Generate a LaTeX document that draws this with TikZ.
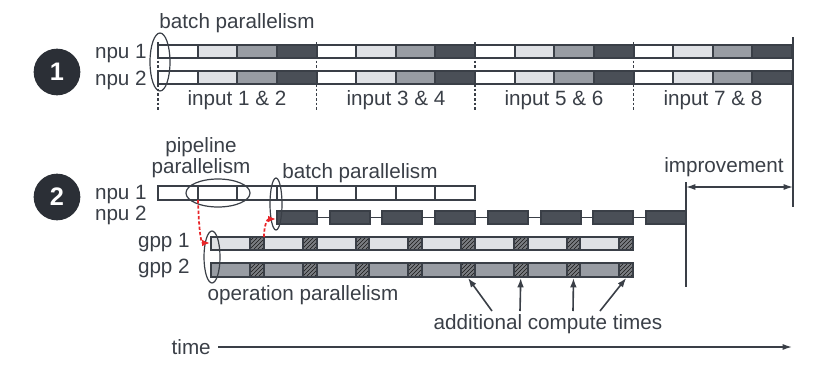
\documentclass[tikz,border=0pt]{standalone}
\usepackage{fontspec}
\setmainfont{Liberation Sans}
\usetikzlibrary{arrows.meta, calc, positioning, patterns}
\definecolor{ink}{HTML}{3A3F47}
\definecolor{badgebg}{HTML}{2B2F36}
\definecolor{seglt}{HTML}{DFE1E5}
\definecolor{segmd}{HTML}{989CA3}
\definecolor{segdk}{HTML}{4A4F57}
\definecolor{linkred}{HTML}{E8262A}
\tikzset{
  lbl/.style     = {font=\fontsize{15.5}{17}\selectfont, text=ink, inner sep=0pt},
  seg/.style     = {draw=ink, line width=1.5pt},
  hatch/.style   = {seg, preaction={fill=segmd!80!black}, pattern=north east lines, pattern color=black!90},
  grp/.style     = {draw=ink, line width=0.9pt},
  badge/.style   = {circle, fill=badgebg, minimum size=35pt, inner sep=0pt,
                    text=white, font=\fontsize{19}{19}\selectfont\bfseries},
  split/.style   = {draw=ink, line width=0.8pt, dash pattern=on 2pt off 1.5pt},
  handoff/.style = {draw=linkred, line width=1.3pt, dash pattern=on 2.5pt off 1.5pt,
                    -{Latex[length=6pt,width=5pt]}},
  pointer/.style = {draw=ink, line width=1.2pt, -{Latex[length=7pt,width=5pt]}},
  timeline/.style= {draw=ink, line width=1pt, -{Latex[length=7pt,width=4.5pt]}},
}

\begin{document}
\begin{tikzpicture}[x=0.75pt, y=-0.75pt]
  \useasboundingbox (0,0) rectangle (822,379);
  % scheme 1: batch parallelism only
  \node[badge] (one) at (57,72) {1};
  \node[lbl, anchor=base east] (npuA1) at (147,58) {npu 1};
  \node[lbl, anchor=base east] (npuA2) at (147,85) {npu 2};
  \node[lbl, anchor=base] (batchA) at (237,28) {batch parallelism};
  \foreach \x in {158,316.5,475,633.5}
    \draw[split] (\x,42) -- (\x,110);
  \foreach \ya/\yb in {45/58, 71/84}
    \foreach \g in {0,...,3}
      \foreach \j/\col in {0/white,1/seglt,2/segmd,3/segdk}
        \draw[seg, fill=\col] ({158+39.625*(4*\g+\j)},\ya) rectangle ({158+39.625*(4*\g+\j+1)},\yb);
  \draw[grp] (160,62) ellipse [x radius=7.5pt, y radius=21.75pt];
  \node[lbl, anchor=base] (inA) at (237,105) {input 1 \& 2};
  \node[lbl, anchor=base] (inB) at (396,105) {input 3 \& 4};
  \node[lbl, anchor=base] (inC) at (554,105) {input 5 \& 6};
  \node[lbl, anchor=base] (inD) at (713,105) {input 7 \& 8};
  \coordinate (endA) at (793,187);
  \draw[ink, line width=1.2pt] (793,37) -- (793,207);

  % scheme 2: npu + gpp
  \node[badge] (two) at (57,197) {2};
  \node[lbl, anchor=base east] (npuB1) at (147,199) {npu 1};
  \node[lbl, anchor=base east] (npuB2) at (147,220) {npu 2};
  \node[lbl, anchor=base east] (gpp1) at (190,247) {gpp 1};
  \node[lbl, anchor=base east] (gpp2) at (190,273) {gpp 2};
  \node[lbl, anchor=base] (pipeA) at (201,152) {pipeline};
  \node[lbl, anchor=base] (pipeB) at (201,173) {parallelism};
  \node[lbl, anchor=base] (batchB) at (360,178) {batch parallelism};
  \node[lbl, anchor=base] (oper) at (303,300) {operation parallelism};
  \node[lbl, anchor=base] (impr) at (724,172) {improvement};
  \node[lbl, anchor=base] (extra) at (548,329) {additional compute times};

  \foreach \k in {0,...,7}
    \draw[seg, fill=white] ({158+39.625*\k},186) rectangle ({158+39.625*(\k+1)},200);
  \draw[ink, line width=0.9pt] (277,217.5) -- (686,217.5);
  \foreach \k in {0,...,7}
    \draw[seg, fill=segdk] ({277+52.7*\k},211) rectangle ({317+52.7*\k},224);
  \foreach \ya/\yb/\col in {237/250/seglt, 263/277/segmd}
    \foreach \k in {0,...,7} {
      \draw[seg, fill=\col] ({211+52.75*\k},\ya) rectangle ({250+52.75*\k},\yb);
      \draw[hatch] ({250+52.75*\k},\ya) rectangle ({264+52.75*\k},\yb);
    }
  \foreach \k in {4,...,7}
    \coordinate (h\k) at ({257+52.75*\k},278);

  \draw[grp] (218,193) ellipse [x radius=24pt, y radius=10.5pt];
  \draw[grp] (276,204) ellipse [x radius=4.5pt, y radius=19.5pt];
  \draw[grp] (212,257) ellipse [x radius=6pt, y radius=19.5pt];

  % hand-offs between the units
  \coordinate (cut) at (198,200);
  \coordinate (gppIn) at (210,243);
  \coordinate (gppOut) at (264,237);
  \coordinate (npuIn) at (276,219);
  \draw[handoff] (cut) .. controls (199,232) and (201,243) .. (gppIn);
  \draw[handoff] (gppOut) .. controls (264,226) and (267,219) .. (npuIn);

  % improvement
  \coordinate (endB) at (686,187);
  \draw[ink, line width=1.2pt] (686,182) -- (686,287);
  \draw[ink, line width=1pt, {Latex[length=7pt,width=4.5pt]}-{Latex[length=7pt,width=4.5pt]}] (endB) -- (endA);

  % extra compute
  \coordinate (e4) at (492,311);
  \coordinate (e5) at (520,311);
  \coordinate (e6) at (573,311);
  \coordinate (e7) at (600,311);
  \foreach \k in {4,...,7}
    \draw[pointer] (e\k) -- (h\k);

  % time axis
  \node[lbl, anchor=east] (time) at (211,347) {time};
  \coordinate (tend) at (792,347);
  \draw[timeline] (time.east) ++(7,0) -- (tend);
\end{tikzpicture}
\end{document}
